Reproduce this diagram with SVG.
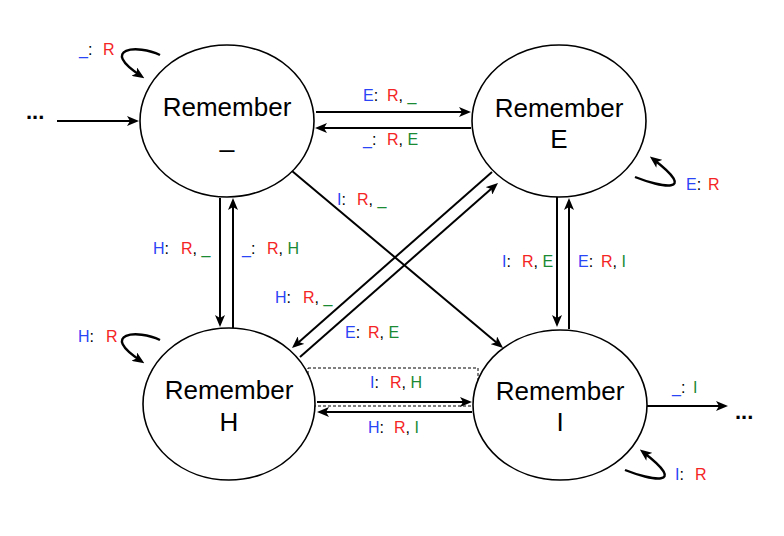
<svg xmlns="http://www.w3.org/2000/svg" width="784" height="536" viewBox="0 0 784 536">
<style>
.node{fill:#fff;stroke:#000;stroke-width:1.6}
.nt{font-family:"Liberation Sans",Arial,sans-serif;font-size:26px;fill:#000;text-anchor:middle}
.e{fill:none;stroke:#000;stroke-width:2;marker-end:url(#ah)}
.loop{fill:none;stroke:#000;stroke-width:2.4;marker-end:url(#ah)}
.lb{font-family:"Liberation Sans",Arial,sans-serif;font-size:16px;fill:#000}
.dots{font-family:"Liberation Sans",Arial,sans-serif;font-size:22px;font-weight:bold;fill:#000}
.b{fill:#2a45f5}.r{fill:#f42424}.g{fill:#1a8a34}
</style>
<defs>
<marker id="ah" viewBox="0 0 12 10" refX="8" refY="5" markerWidth="12" markerHeight="10" markerUnits="userSpaceOnUse" orient="auto">
<path d="M0,0 L12,5 L0,10 L3,5 z" fill="#000"/>
</marker>
</defs>
<rect width="784" height="536" fill="#fff"/>
<g id="connectors">
<path class="e" d="M57,121 L135,121"/>
<path class="e" d="M316,112 L467,112"/>
<path class="e" d="M471,128 L319,128"/>
<path class="e" d="M220,198 L220,323"/>
<path class="e" d="M233,328 L233,202"/>
<path class="e" d="M557,197 L557,323"/>
<path class="e" d="M569,329 L569,202"/>
<path class="e" d="M317,402 L468,402"/>
<path class="e" d="M472,412 L321,412"/>
<path class="e" d="M647,406 L724,406"/>
<path class="e" d="M292,171 L500,345.4"/>
<path class="e" d="M492,172 L295,345.4"/>
<path class="e" d="M300,357 L495,185.6"/>
<path class="loop" d="M160,55 C138,44 98,48 141,76"/>
<path class="loop" d="M160,340 C138,329 98,333 141,361"/>
<path class="loop" d="M635,177 C660,187 700,195 653,159"/>
<path class="loop" d="M625,470 C650,480 690,488 643,452"/>
<rect x="308" y="368" width="170" height="38" fill="none" stroke="#000" stroke-width="1" stroke-dasharray="3,2"/>
</g>
<g id="node-blank">
<ellipse class="node" cx="227" cy="121" rx="87" ry="76"/>
<text class="nt" x="227" y="116">Remember</text>
<text class="nt" x="227" y="147">_</text>
</g>
<g id="node-E">
<ellipse class="node" cx="559" cy="121" rx="87" ry="76"/>
<text class="nt" x="559" y="117">Remember</text>
<text class="nt" x="559" y="148">E</text>
</g>
<g id="node-H">
<ellipse class="node" cx="229" cy="404" rx="86" ry="76"/>
<text class="nt" x="229" y="399">Remember</text>
<text class="nt" x="229" y="431">H</text>
</g>
<g id="node-I">
<ellipse class="node" cx="560" cy="405" rx="87" ry="75"/>
<text class="nt" x="560" y="400">Remember</text>
<text class="nt" x="560" y="431">I</text>
</g>
<g id="labels">
<text class="dots" x="26" y="119">...</text>
<text class="dots" x="735" y="419">...</text>
<text class="lb" x="79" y="55"><tspan class="b">_</tspan>:<tspan class="r" x="103">R</tspan></text>
<text class="lb" x="363" y="101"><tspan class="b">E</tspan>:<tspan class="r" x="387">R</tspan>, <tspan class="g">_</tspan></text>
<text class="lb" x="363" y="145"><tspan class="b">_</tspan>:<tspan class="r" x="387">R</tspan>, <tspan class="g">E</tspan></text>
<text class="lb" x="686" y="190"><tspan class="b">E</tspan>:<tspan class="r" x="708">R</tspan></text>
<text class="lb" x="153" y="254"><tspan class="b">H</tspan>:<tspan class="r" x="181">R</tspan>, <tspan class="g">_</tspan></text>
<text class="lb" x="242" y="254"><tspan class="b">_</tspan>:<tspan class="r" x="267">R</tspan>, <tspan class="g">H</tspan></text>
<text class="lb" x="337" y="205"><tspan class="b">I</tspan>:<tspan class="r" x="357">R</tspan>, <tspan class="g">_</tspan></text>
<text class="lb" x="275" y="303"><tspan class="b">H</tspan>:<tspan class="r" x="303">R</tspan>, <tspan class="g">_</tspan></text>
<text class="lb" x="345" y="338"><tspan class="b">E</tspan>:<tspan class="r" x="368">R</tspan>, <tspan class="g">E</tspan></text>
<text class="lb" x="502" y="267"><tspan class="b">I</tspan>:<tspan class="r" x="522">R</tspan>, <tspan class="g">E</tspan></text>
<text class="lb" x="578" y="267"><tspan class="b">E</tspan>:<tspan class="r" x="601">R</tspan>, <tspan class="g">I</tspan></text>
<text class="lb" x="78" y="342"><tspan class="b">H</tspan>:<tspan class="r" x="106">R</tspan></text>
<text class="lb" x="370" y="388"><tspan class="b">I</tspan>:<tspan class="r" x="390">R</tspan>, <tspan class="g">H</tspan></text>
<text class="lb" x="368" y="433"><tspan class="b">H</tspan>:<tspan class="r" x="394">R</tspan>, <tspan class="g">I</tspan></text>
<text class="lb" x="672" y="393"><tspan class="b">_</tspan>:<tspan class="g" x="693">I</tspan></text>
<text class="lb" x="675" y="480"><tspan class="b">I</tspan>:<tspan class="r" x="695">R</tspan></text>
</g>
</svg>
